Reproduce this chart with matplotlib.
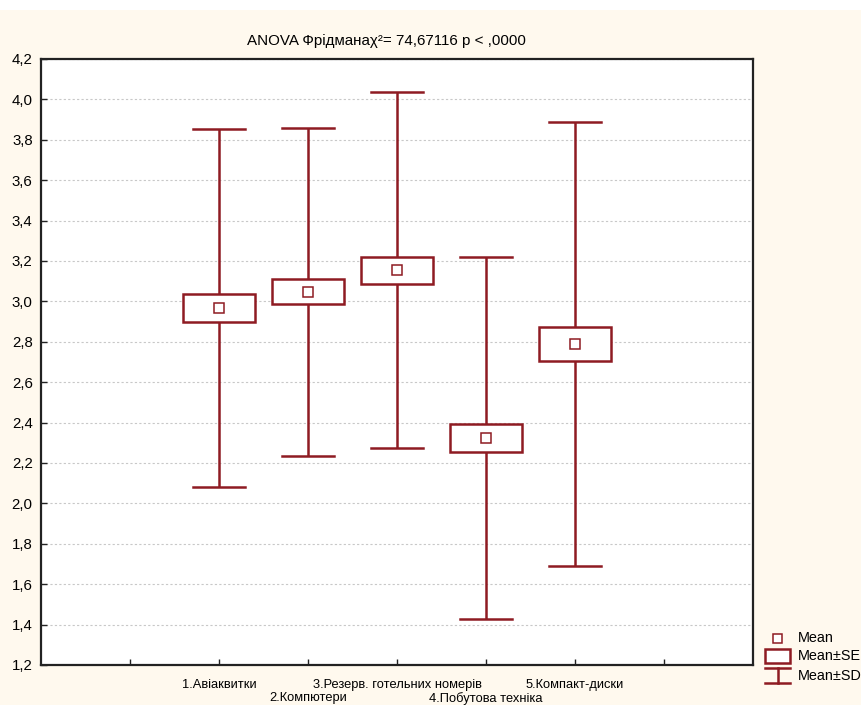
import matplotlib
matplotlib.use("Agg")
import matplotlib.pyplot as plt
import matplotlib.transforms as mtransforms
from matplotlib.patches import Rectangle

plt.rcParams["font.family"] = ["Liberation Sans", "DejaVu Sans"]

# Data
categories = ["1.Авіаквитки", "2.Компютери", "3.Резерв. готельних номерів",
              "4.Побутова техніка", "5.Компакт-диски"]
means = [2.967, 3.047, 3.155, 2.322, 2.789]
se = [0.069, 0.062, 0.067, 0.070, 0.082]
sd = [0.884, 0.812, 0.882, 0.896, 1.098]
yticks = [1.2, 1.4, 1.6, 1.8, 2.0, 2.2, 2.4, 2.6, 2.8, 3.0, 3.2, 3.4, 3.6, 3.8, 4.0, 4.2]
title = "ANOVA Фрідмана\u03c7\u00b2= 74,67116 p < ,0000"
legend_labels = ["Mean", "Mean±SE", "Mean±SD"]

red = "#8E1B22"
cream = "#FFF9EE"

fig = plt.figure(figsize=(8.62, 7.05), dpi=100, facecolor=cream)
fig.patches.append(Rectangle((0, 1 - 10 / 705), 1, 10 / 705, transform=fig.transFigure,
                             facecolor="white", edgecolor="none", zorder=0))
ax = fig.add_axes([41 / 862, 1 - 665 / 705, 712 / 862, 606 / 705])
ax.set_facecolor("white")

pos = list(range(1, len(categories) + 1))
box_w = 0.81
cap_w = 0.58
for x, m, s, d in zip(pos, means, se, sd):
    ax.plot([x, x], [m - d, m + d], color=red, lw=1.8, zorder=2, solid_capstyle="butt")
    ax.plot([x - cap_w / 2, x + cap_w / 2], [m + d, m + d], color=red, lw=1.8, zorder=2)
    ax.plot([x - cap_w / 2, x + cap_w / 2], [m - d, m - d], color=red, lw=1.8, zorder=2)
    ax.add_patch(Rectangle((x - box_w / 2, m - s), box_w, 2 * s, facecolor="white",
                           edgecolor=red, lw=1.8, zorder=3))
ax.plot(pos, means, linestyle="none", marker="s", markersize=7, markerfacecolor="white",
        markeredgecolor=red, markeredgewidth=1.1, zorder=4)

ax.set_xlim(-1, 7)
ax.set_ylim(1.2, 4.2)
ax.set_yticks(yticks)
ax.set_yticklabels([f"{v:.1f}".replace(".", ",") for v in yticks], fontsize=10.8)
ax.set_xticks(range(0, 7))
ax.set_xticklabels([])
ax.tick_params(axis="both", direction="in", length=4, width=1, color="#222222")
ax.tick_params(axis="y", pad=6)
ax.grid(axis="y", linestyle=(0, (2, 2)), color="#c8c8c8", lw=0.8)
ax.set_axisbelow(True)
for sp in ax.spines.values():
    sp.set_linewidth(1.6)
    sp.set_color("#222222")

# staggered category labels in two rows
trans = mtransforms.blended_transform_factory(ax.transData, ax.transAxes)
for i, (x, c) in enumerate(zip(pos, categories)):
    yrow = -0.0225 if i % 2 == 0 else -0.0445
    ax.text(x, yrow, c, transform=trans, ha="center", va="top", fontsize=9.3)

fig.text(386.5 / 862, 1 - 41 / 705, title, ha="center", va="center", fontsize=10.9)

# Legend drawn by hand in pixel coordinates
lg = fig.add_axes([760 / 862, 1 - 690 / 705, 102 / 862, 65 / 705])
lg.set_xlim(760, 862)
lg.set_ylim(690, 625)
lg.axis("off")
lg.add_patch(Rectangle((773, 634), 9.5, 9.5, facecolor="white", edgecolor=red, lw=1.1))
lg.add_patch(Rectangle((765.5, 649), 25, 14, facecolor="white", edgecolor=red, lw=1.8))
lg.plot([765.5, 790.5], [668.5, 668.5], color=red, lw=1.8)
lg.plot([765.5, 790.5], [683.5, 683.5], color=red, lw=1.8)
lg.plot([778, 778], [668.5, 683.5], color=red, lw=1.8)
for yy, lab in zip([638.5, 656, 676], legend_labels):
    lg.text(798, yy, lab, fontsize=10.4, va="center", ha="left", clip_on=False)

fig.savefig("out.png", dpi=100, facecolor=cream)
